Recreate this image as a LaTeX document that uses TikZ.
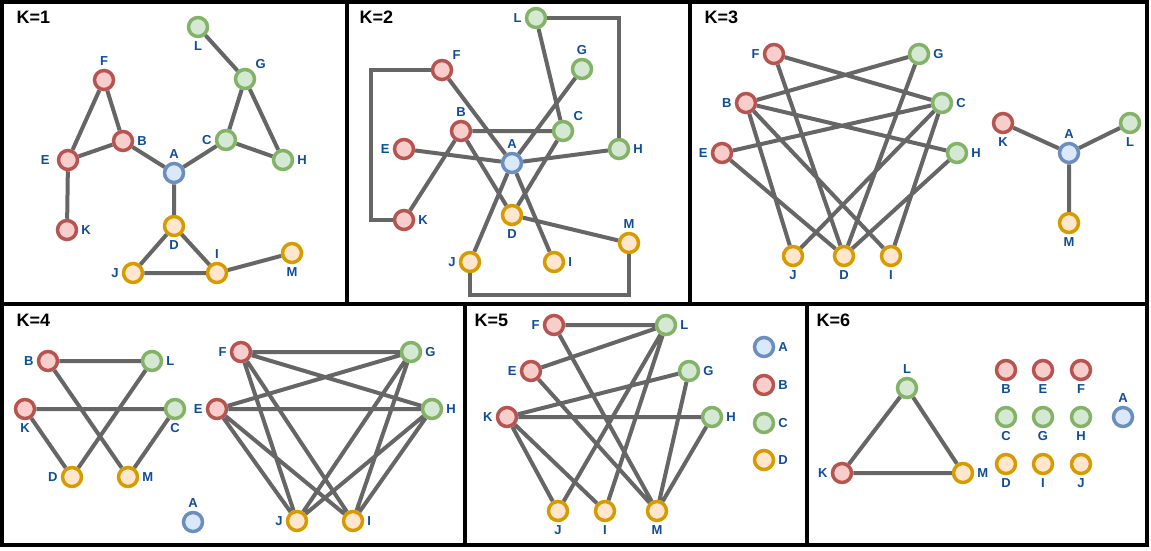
\documentclass[tikz,border=0pt]{standalone}
\usepackage{fontspec}
\setsansfont{Liberation Sans}
\usepackage{tikz}

\definecolor{redline}{HTML}{B85450}
\definecolor{redfill}{HTML}{F8CECC}
\definecolor{greenline}{HTML}{82B366}
\definecolor{greenfill}{HTML}{D5E8D4}
\definecolor{blueline}{HTML}{6C8EBF}
\definecolor{bluefill}{HTML}{DAE8FC}
\definecolor{orangeline}{HTML}{D79B00}
\definecolor{orangefill}{HTML}{FFE6CC}
\definecolor{linkgray}{HTML}{666666}
\definecolor{lblblue}{HTML}{0F4C99}

\begin{document}
\begin{tikzpicture}[x=1pt, y=-1pt,
        vertex/.style = {circle, draw=#1line, fill=#1fill, line width=3.5pt, minimum size=19pt, inner sep=0pt, node contents={}},
        link/.style = {draw=linkgray, line width=4pt},
        frame/.style = {draw=black, line width=4pt},
        paneltitle/.style = {anchor=west, font=\sffamily\bfseries\fontsize{18}{18}\selectfont},
        every label/.style = {font=\sffamily\bfseries\fontsize{13}{13}\selectfont, text=lblblue, inner sep=1pt},
        label distance=2pt
        ]
        \useasboundingbox (0,0) rectangle (1151,550);

        % frames
        \draw[frame] (2,2) rectangle (347,304);
        \draw[frame] (347,2) rectangle (690,304);
        \draw[frame] (690,2) rectangle (1147,304);
        \draw[frame] (2,304) rectangle (465,545);
        \draw[frame] (465,304) rectangle (807,545);
        \draw[frame] (807,304) rectangle (1147,545);

        % K=1
        \node (T1) at (13,17) [paneltitle] {K=1};
        \node (L1) at (198,27)  [vertex=green, label=below:L];
        \node (G1) at (245,79)  [vertex=green, label=above right:G];
        \node (F1) at (104,80)  [vertex=red, label=above:F];
        \node (B1) at (123,141) [vertex=red, label=right:B];
        \node (C1) at (226,140) [vertex=green, label=left:C];
        \node (E1) at (68,160)  [vertex=red, label={[label distance=6pt]left:E}];
        \node (H1) at (283,160) [vertex=green, label=right:H];
        \node (A1) at (174,173) [vertex=blue, label=above:A];
        \node (D1) at (174,226) [vertex=orange, label=below:D];
        \node (K1) at (67,230)  [vertex=red, label=right:K];
        \node (M1) at (292,253) [vertex=orange, label=below:M];
        \node (J1) at (133,273) [vertex=orange, label=left:J];
        \node (I1) at (217,273) [vertex=orange, label=above:I];
        \draw[link] (L1) -- (G1) (G1) -- (C1) (G1) -- (H1) (C1) -- (H1) (C1) -- (A1)
            (A1) -- (B1) (B1) -- (E1) (B1) -- (F1) (F1) -- (E1) (E1) -- (K1)
            (A1) -- (D1) (D1) -- (J1) (D1) -- (I1) (J1) -- (I1) (I1) -- (M1);

        % K=2
        \node (T2) at (356,17) [paneltitle] {K=2};
        \node (L2) at (536,18)  [vertex=green, label=left:L];
        \node (G2) at (582,69)  [vertex=green, label=above:G];
        \node (F2) at (442,70)  [vertex=red, label=above right:F];
        \node (B2) at (461,131) [vertex=red, label=above:B];
        \node (C2) at (563,131) [vertex=green, label=above right:C];
        \node (E2) at (404,149) [vertex=red, label=left:E];
        \node (H2) at (619,149) [vertex=green, label=right:H];
        \node (A2) at (512,163) [vertex=blue, label=above:A];
        \node (D2) at (512,215) [vertex=orange, label=below:D];
        \node (K2) at (404,220) [vertex=red, label=right:K];
        \node (M2) at (629,243) [vertex=orange, label=above:M];
        \node (J2) at (470,262) [vertex=orange, label=left:J];
        \node (I2) at (554,262) [vertex=orange, label=right:I];
        \draw[link] (L2) -- (C2) (G2) -- (A2) (A2) -- (J2) (F2) -- (A2) (A2) -- (I2)
            (B2) -- (C2) (E2) -- (A2) (A2) -- (H2) (B2) -- (K2) (B2) -- (D2)
            (C2) -- (D2) (D2) -- (M2);
        \draw[link] (L2) -| (H2);
        \draw[link] (F2) -- ++(-71,0) |- (K2);
        \draw[link] (J2) -- ++(0,33) -| (M2);

        % K=3
        \node (T3) at (701,17) [paneltitle] {K=3};
        \node (F3) at (774,54)  [vertex=red, label=left:F];
        \node (G3) at (919,54)  [vertex=green, label=right:G];
        \node (B3) at (746,103) [vertex=red, label=left:B];
        \node (C3) at (942,103) [vertex=green, label=right:C];
        \node (E3) at (722,153) [vertex=red, label=left:E];
        \node (H3) at (957,153) [vertex=green, label=right:H];
        \node (J3) at (793,256) [vertex=orange, label=below:J];
        \node (D3) at (844,256) [vertex=orange, label=below:D];
        \node (I3) at (891,256) [vertex=orange, label=below:I];
        \node (K3) at (1003,123) [vertex=red, label=below:K];
        \node (A3) at (1069,153) [vertex=blue, label=above:A];
        \node (L3) at (1130,123) [vertex=green, label=below:L];
        \node (M3) at (1069,223) [vertex=orange, label=below:M];
        \draw[link] (F3) -- (C3) (F3) -- (D3) (G3) -- (B3) (G3) -- (D3) (B3) -- (H3)
            (B3) -- (J3) (B3) -- (I3) (E3) -- (C3) (E3) -- (D3) (C3) -- (J3)
            (C3) -- (I3) (H3) -- (D3) (K3) -- (A3) (A3) -- (L3) (A3) -- (M3);

        % K=4
        \node (T4) at (13,320) [paneltitle] {K=4};
        \node (B4) at (48,361)  [vertex=red, label=left:B];
        \node (L4) at (152,361) [vertex=green, label=right:L];
        \node (K4) at (25,409)  [vertex=red, label=below:K];
        \node (C4) at (175,409) [vertex=green, label=below:C];
        \node (D4) at (72,477)  [vertex=orange, label=left:D];
        \node (M4) at (128,477) [vertex=orange, label=right:M];
        \node (A4) at (193,522) [vertex=blue, label=above:A];
        \node (F4) at (241,352) [vertex=red, label=left:F];
        \node (G4) at (411,352) [vertex=green, label=right:G];
        \node (E4) at (217,409) [vertex=red, label=left:E];
        \node (H4) at (432,409) [vertex=green, label=right:H];
        \node (J4) at (297,521) [vertex=orange, label=left:J];
        \node (I4) at (353,521) [vertex=orange, label=right:I];
        \draw[link] (B4) -- (L4) (B4) -- (M4) (L4) -- (D4) (K4) -- (C4) (K4) -- (D4)
            (C4) -- (M4);
        \draw[link] (F4) -- (G4) (F4) -- (H4) (F4) -- (J4) (F4) -- (I4) (E4) -- (G4)
            (E4) -- (H4) (E4) -- (J4) (E4) -- (I4) (G4) -- (J4) (G4) -- (I4)
            (H4) -- (J4) (H4) -- (I4);

        % K=5
        \node (T5) at (471,320) [paneltitle] {K=5};
        \node (F5) at (554,325) [vertex=red, label=left:F];
        \node (L5) at (666,325) [vertex=green, label=right:L];
        \node (E5) at (531,371) [vertex=red, label=left:E];
        \node (G5) at (689,371) [vertex=green, label=right:G];
        \node (K5) at (507,417) [vertex=red, label=left:K];
        \node (H5) at (712,417) [vertex=green, label=right:H];
        \node (J5) at (558,511) [vertex=orange, label=below:J];
        \node (I5) at (605,511) [vertex=orange, label=below:I];
        \node (M5) at (657,511) [vertex=orange, label=below:M];
        \node (A5) at (764,347) [vertex=blue, label=right:A];
        \node (B5) at (764,385) [vertex=red, label=right:B];
        \node (C5) at (764,423) [vertex=green, label=right:C];
        \node (D5) at (764,460) [vertex=orange, label=right:D];
        \draw[link] (F5) -- (L5) (F5) -- (M5) (E5) -- (L5) (E5) -- (M5) (K5) -- (G5)
            (K5) -- (H5) (K5) -- (J5) (K5) -- (I5) (L5) -- (J5) (L5) -- (I5)
            (G5) -- (M5) (H5) -- (M5);

        % K=6
        \node (T6) at (813,320) [paneltitle] {K=6};
        \node (L6) at (907,388)  [vertex=green, label=above:L];
        \node (K6) at (842,473)  [vertex=red, label=left:K];
        \node (M6) at (963,473)  [vertex=orange, label=right:M];
        \node (B6) at (1006,370) [vertex=red, label=below:B];
        \node (E6) at (1043,370) [vertex=red, label=below:E];
        \node (F6) at (1081,370) [vertex=red, label=below:F];
        \node (C6) at (1006,417) [vertex=green, label=below:C];
        \node (G6) at (1043,417) [vertex=green, label=below:G];
        \node (H6) at (1081,417) [vertex=green, label=below:H];
        \node (D6) at (1006,464) [vertex=orange, label=below:D];
        \node (I6) at (1043,464) [vertex=orange, label=below:I];
        \node (J6) at (1081,464) [vertex=orange, label=below:J];
        \node (A6) at (1123,417) [vertex=blue, label=above:A];
        \draw[link] (K6) -- (L6) -- (M6) -- (K6);

\end{tikzpicture}
\end{document}
